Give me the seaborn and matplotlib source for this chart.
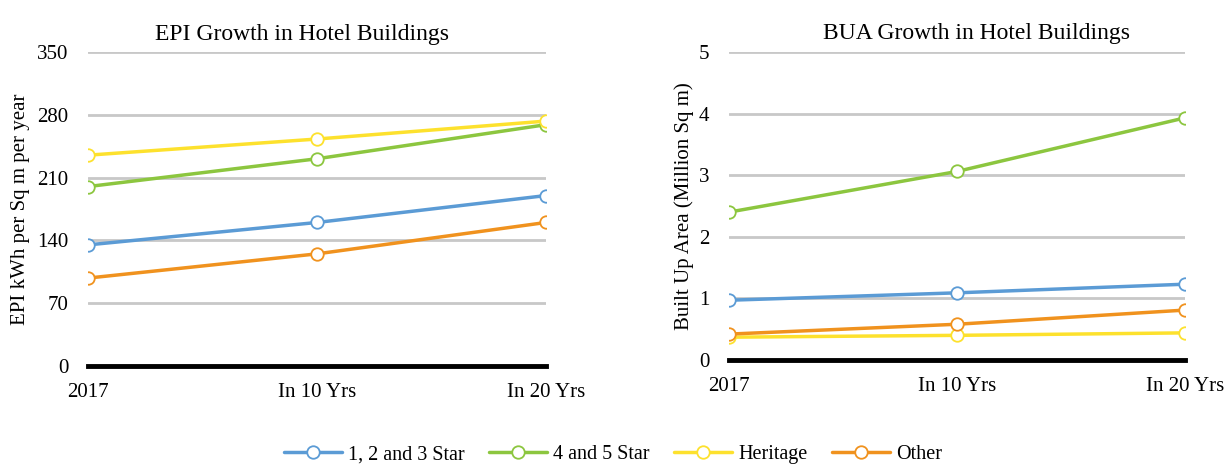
import pandas as pd
import seaborn as sns
import matplotlib.pyplot as plt

periods = ["2017", "In 10 Yrs", "In 20 Yrs"]
series = ["1, 2 and 3 Star", "4 and 5 Star", "Heritage", "Other"]
colors = ["#5B9BD5", "#8CC63F", "#FDE12D", "#F0921E"]

# EPI kWh per sq m per year
epi_123 = [135, 160, 190]
epi_45 = [200, 231, 269]
epi_heritage = [235, 253, 273]
epi_other = [98, 125, 160]

# Built up area, million sq m
bua_123 = [0.97, 1.09, 1.23]
bua_45 = [2.40, 3.06, 3.93]
bua_heritage = [0.37, 0.40, 0.44]
bua_other = [0.42, 0.58, 0.81]

sns.set_theme(style="white")
plt.rcParams['font.family'] = ['Liberation Serif', 'DejaVu Serif']
plt.rcParams['text.color'] = 'black'

fig = plt.figure(figsize=(12.26, 4.66), dpi=100)
ax1 = fig.add_axes([0.0718, 0.2146, 0.3736, 0.6738])
ax2 = fig.add_axes([0.5946, 0.2275, 0.3719, 0.661])

def draw(ax, values, ylim, step, title, ylabel, title_x, label_x):
    for name, vals, c in zip(series, values, colors):
        df = pd.DataFrame({"period": periods, "value": vals})
        sns.lineplot(data=df, x="period", y="value", ax=ax, color=c, lw=2.5,
                     marker="o", markersize=9, markerfacecolor="white",
                     markeredgecolor=c, markeredgewidth=1.3, label=name, sort=False)
    ax.set_xlim(0, 2)
    ax.set_ylim(*ylim)
    ax.set_yticks([i * step for i in range(int(round(ylim[1] / step)) + 1)])
    ax.grid(axis="y", color="#C8C8C8", lw=2)
    ax.set_axisbelow(True)
    for s in ["left", "right", "top"]:
        ax.spines[s].set_visible(False)
    ax.spines["bottom"].set_color("black")
    ax.spines["bottom"].set_linewidth(3.5)
    ax.spines["bottom"].set_zorder(5)
    ax.tick_params(axis="both", length=0, labelsize=15, colors="black")
    ax.tick_params(axis="x", pad=12)
    ax.tick_params(axis="y", pad=14)
    ax.set_xlabel("")
    ax.set_ylabel(ylabel, fontsize=15, color="black")
    ax.yaxis.set_label_coords(label_x, 0.5)
    ax.set_title(title, fontsize=17, x=title_x, pad=9, color="black")
    ax.get_legend().remove()

draw(ax1, [epi_123, epi_45, epi_heritage, epi_other], (0, 350), 70,
     "EPI Growth in Hotel Buildings", "EPI kWh per Sq m per year", 0.467, -0.127)
draw(ax2, [bua_123, bua_45, bua_heritage, bua_other], (0, 5), 1,
     "BUA Growth in Hotel Buildings", "Built Up Area (Million Sq m)", 0.542, -0.077)

handles, labels = ax1.get_legend_handles_labels()
fig.legend(handles, labels, loc="lower center", bbox_to_anchor=(0.5, -0.035), ncol=4,
           frameon=False, fontsize=14.5, columnspacing=1.2, handlelength=2.9,
           handletextpad=0.3, labelcolor="black")

fig.savefig("out.png", dpi=100)
